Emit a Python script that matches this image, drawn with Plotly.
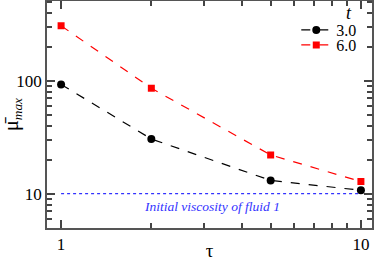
import plotly.graph_objects as go

tau = [1, 2, 5, 10]
mu_t3 = [93, 30.5, 13.1, 10.7]
mu_t6 = [308, 86, 22, 12.8]
init_visc_x = [1, 10]
init_visc_y = [10, 10]

x_major = [1, 10]
y_major = [10, 100]
x_minor = [2, 3, 4, 5, 6, 7, 8, 9]
y_minor = [6, 7, 8, 9, 20, 30, 40, 50, 60, 70, 80, 90, 200, 300, 400, 500]

FONT = "Liberation Serif"
XR = [-0.047, 1.037]
YR = [0.695, 2.708]

fig = go.Figure()
fig.add_trace(go.Scatter(
    x=tau, y=mu_t3, name="3.0", mode="lines+markers", legend="legend",
    line=dict(color="black", dash="dash", width=1.2),
    marker=dict(symbol="circle", size=8, color="black")))
fig.add_trace(go.Scatter(
    x=tau, y=mu_t6, name="6.0", mode="lines+markers", legend="legend2",
    line=dict(color="#ff0000", dash="dash", width=1.2),
    marker=dict(symbol="square", size=7, color="#ff0000")))
fig.add_trace(go.Scatter(
    x=init_visc_x, y=init_visc_y, mode="lines", showlegend=False,
    xaxis="x2", yaxis="y2",
    line=dict(color="#3333ff", dash="dot", width=1.2)))

fig.add_annotation(x=0.27, y=1.0, xref="x", yref="y", xanchor="left", yanchor="top",
                   yshift=-3,
                   text="<i>Initial viscosity of fluid 1</i>", showarrow=False,
                   font=dict(family=FONT, size=13.5, color="#3333ff"))
fig.add_annotation(x=0.93, y=0.947, xref="paper", yref="paper", xanchor="center", yanchor="middle",
                   text="<i>t</i>", showarrow=False,
                   font=dict(family=FONT, size=18, color="black"))

common = dict(showline=True, linecolor="#555555", linewidth=1.5, mirror="allticks",
              ticks="inside", showgrid=False, zeroline=False)

fig.update_layout(
    width=374, height=261,
    margin=dict(l=47, r=2, t=1, b=33),
    plot_bgcolor="white", paper_bgcolor="white",
    font=dict(family=FONT, color="black"),
    xaxis=dict(type="log", range=XR, tickmode="array", tickvals=x_major, ticklen=8,
               tickcolor="#444444", tickwidth=1.5, automargin=False,
               tickfont=dict(family=FONT, size=17, color="black"),
               title=dict(text="τ", font=dict(family=FONT, size=19, color="black"), standoff=4),
               **common),
    yaxis=dict(type="log", range=YR, tickmode="array", tickvals=y_major, ticklen=8,
               tickcolor="#444444", tickwidth=1.5, automargin=False,
               tickfont=dict(family=FONT, size=17, color="black"),
               title=dict(text="<span style='font-size:20px'>μ̄</span><sub><i>max</i></sub>",
                          font=dict(family=FONT, size=19, color="black"), standoff=4),
               **common),
    xaxis2=dict(type="log", range=XR, overlaying="x", side="bottom", anchor="y2",
                tickmode="array", tickvals=x_minor, ticklen=5, tickwidth=1.5,
                tickcolor="#444444", showticklabels=False, automargin=False, **common),
    yaxis2=dict(type="log", range=YR, overlaying="y", side="left", anchor="x2",
                tickmode="array", tickvals=y_minor, ticklen=5, tickwidth=1.5,
                tickcolor="#444444", showticklabels=False, automargin=False, **common),
    legend=dict(x=0.767, xanchor="left", y=0.872, yanchor="middle",
                bgcolor="rgba(0,0,0,0)", font=dict(family=FONT, size=16), itemwidth=30),
    legend2=dict(x=0.767, xanchor="left", y=0.806, yanchor="middle",
                 bgcolor="rgba(0,0,0,0)", font=dict(family=FONT, size=16), itemwidth=30),
)

fig.write_html("out.html", config={"displayModeBar": False},
               post_script="document.body.style.margin='0';document.body.style.padding='0';")
